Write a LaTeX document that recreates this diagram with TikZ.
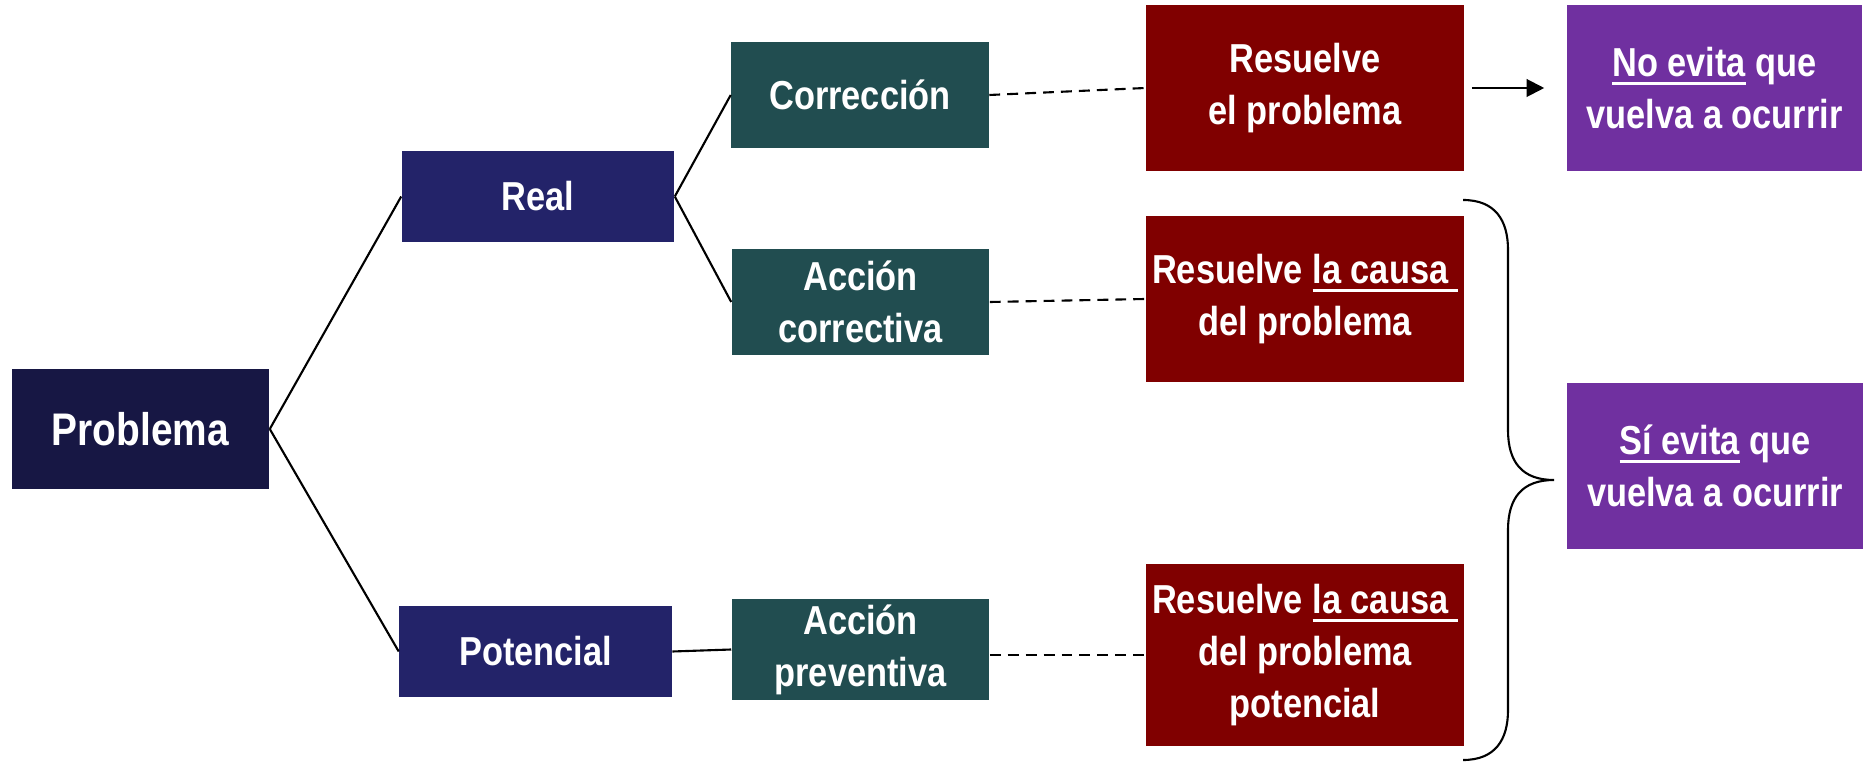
\documentclass[tikz,border=0pt]{standalone}
\usepackage{fontspec}
\setmainfont{Liberation Sans}[FakeStretch=0.85]
\usetikzlibrary{arrows.meta}
\definecolor{probcol}{RGB}{23,23,68}
\definecolor{tipocol}{RGB}{35,35,105}
\definecolor{accioncol}{RGB}{33,77,80}
\definecolor{resuelvecol}{RGB}{128,0,0}
\definecolor{evitacol}{RGB}{112,48,160}
\newcommand{\ulin}[1]{\setbox0\hbox{#1}\rlap{\rule[-2.4pt]{\wd0}{0.75pt}}\box0\relax}
\begin{document}
\begin{tikzpicture}[x=0.01cm,y=-0.01cm]
                    \tikzstyle{box}=[rectangle,text=white,align=center,inner sep=0pt,font=\bfseries\fontsize{11.5}{14.8}\selectfont]
                    \tikzstyle{probbox}=[box,fill=probcol,minimum width=2.57cm,minimum height=1.2cm,font=\bfseries\fontsize{13}{16}\selectfont]
                    \tikzstyle{tipobox}=[box,fill=tipocol,minimum width=2.72cm,minimum height=0.91cm]
                    \tikzstyle{accbox}=[box,fill=accioncol,minimum width=2.57cm,minimum height=1.06cm]
                    \tikzstyle{resbox}=[box,fill=resuelvecol,minimum width=3.18cm,minimum height=1.66cm]
                    \tikzstyle{evitabox}=[box,fill=evitacol,minimum width=2.95cm,minimum height=1.66cm]
                    \tikzstyle{conn}=[line width=0.6pt]
                    \tikzstyle{dashline}=[line width=0.6pt,dash pattern=on 3.1pt off 2pt]
                    \useasboundingbox (0,0) rectangle (1864,764);
                    \node[probbox] (problema) at (140.5,429) {Problema};
                    \node[tipobox] (real) at (538,196.5) {Real};
                    \node[tipobox] (potencial) at (535.5,651.5) {Potencial};
                    \node[accbox] (correccion) at (860,95) {Corrección};
                    \node[accbox] (acorrectiva) at (860.5,302) {Acción\\correctiva};
                    \node[accbox,minimum height=1.01cm] (apreventiva) at (860.5,649.5) {Acción\\preventiva};
                    \node[resbox] (resproblema) at (1305,88) {Resuelve\\el problema};
                    \node[resbox] (rescausa) at (1305,299) {Resuelve \ulin{la causa\ }\\del problema};
                    \node[resbox,minimum height=1.82cm] (rescausapot) at (1305,655) {Resuelve \ulin{la causa\ }\\del problema\\potencial};
                    \node[evitabox] (noevita) at (1714.5,88) {\ulin{No evita} que\\vuelva a ocurrir};
                    \node[evitabox] (sievita) at (1715,466) {\ulin{Sí evita} que\\vuelva a ocurrir};
                    \draw[conn] (problema.east) -- (real.west);
                    \draw[conn] (problema.east) -- (potencial.west);
                    \draw[conn] (real.east) -- (correccion.west);
                    \draw[conn] (real.east) -- (acorrectiva.west);
                    \draw[conn] (potencial.east) -- (apreventiva.west);
                    \draw[dashline] (correccion.east) -- (resproblema.west);
                    \draw[dashline] (acorrectiva.east) -- (rescausa.west);
                    \draw[dashline] (apreventiva.east |- rescausapot.west) -- (rescausapot.west);
                    \draw[conn,-{Triangle[length=5pt,width=5pt]},shorten <=0.07cm,shorten >=0.22cm] (resproblema.east) -- (noevita.west);
                    \draw[conn] (1463,200) .. controls (1495,200) and (1508,220) .. (1508,250) -- (1508,430)
                    .. controls (1508,462) and (1522,480) .. (1554,480)
                    .. controls (1522,480) and (1508,498) .. (1508,530) -- (1508,710)
                    .. controls (1508,740) and (1495,760) .. (1463,760);
                \end{tikzpicture}
\end{document}
